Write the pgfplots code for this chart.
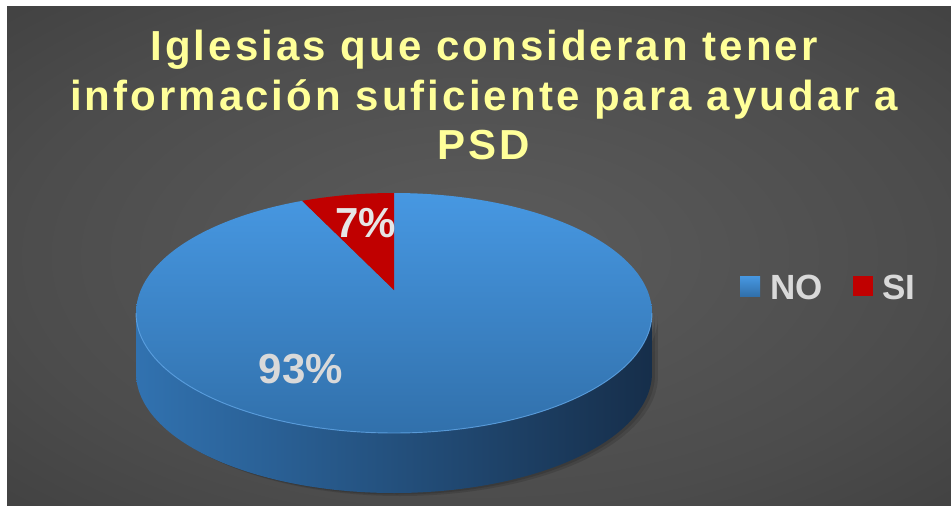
\documentclass[border=0pt]{standalone}
\usepackage{fontspec}
\setmainfont{Liberation Sans}
\newfontfamily\titlefont[LetterSpace=7.3]{Liberation Sans}
\usepackage{pgfplots}
\usepackage{pgfplotstable}
\pgfplotsset{compat=1.18}

\definecolor{titleyellow}{HTML}{FFFF99}
\definecolor{bgA}{HTML}{5C5C5C}
\definecolor{bgB}{HTML}{4C4C4C}
\definecolor{bgC}{HTML}{353535}
\definecolor{bgD}{HTML}{262626}
\definecolor{topA}{HTML}{4798E2}
\definecolor{topB}{HTML}{3170AB}
\definecolor{sideL}{HTML}{3172B0}
\definecolor{sideM}{HTML}{22507E}
\definecolor{sideR}{HTML}{162E4A}
\definecolor{siRed}{HTML}{C00000}
\definecolor{hiLine}{HTML}{62A8EA}
\definecolor{labA}{HTML}{E6E6E6}
\definecolor{labB}{HTML}{D9D9D9}

\pgfdeclareradialshading{bgshade}{\pgfpoint{0bp}{0bp}}{color(0bp)=(bgA); color(25bp)=(bgB); color(50bp)=(bgC); color(71bp)=(bgD)}

\pgfplotstableread{
cat val
NO 93
SI 7
}\pietable
\pgfplotstablegetelem{0}{val}\of\pietable \let\valNO\pgfplotsretval
\pgfplotstablegetelem{1}{val}\of\pietable \let\valSI\pgfplotsretval

% geometry of the perspective pie (pixel units)
\def\vx{394}\def\vy{290}\def\RA{253.2}\def\RB{115.6}\def\ee{0.1917}\def\dep{60}
\pgfmathsetmacro\aNOs{90}
\pgfmathsetmacro\aNOe{90-3.6*\valNO}
\pgfmathsetmacro\aSIs{\aNOe}
\pgfmathsetmacro\aSIe{\aSIs-3.6*\valSI}
\pgfmathsetmacro\tone{180+asin(\ee)}
\pgfmathsetmacro\ttwo{360-asin(\ee)}

\begin{document}
\begin{tikzpicture}
\begin{scope}[x=0.75pt,y=-0.75pt]
\fill[white] (0,0) rectangle (951,506);
\shade[shading=bgshade] (7,7) rectangle (951,505);
\tikzset{ttl/.style={anchor=base, inner sep=0pt, text=titleyellow, font=\titlefont\bfseries\fontsize{31.5}{37}\selectfont}}
\node[ttl] at (484,61) {Iglesias que consideran tener};
\node[ttl] at (484,110.5) {información suficiente para ayudar a};
\node[ttl] at (484,160) {PSD};
\end{scope}
\begin{axis}[
  at={(0pt,0pt)}, anchor=north west,
  scale only axis, width=713.25pt, height=379.5pt,
  xmin=0, xmax=951, ymin=0, ymax=506, y dir=reverse,
  hide axis, clip=false,
  declare function={
    px(\ang,\rr)=\vx+\rr*\RA*cos(\ang)/(1+\ee*sin(\ang));
    py(\ang,\rr)=\vy-\rr*\RB*sin(\ang)/(1+\ee*sin(\ang));
    sa(\uu,\sss,\eee)=\sss+(\eee-\sss)*min(\uu,1);
    sth(\uu)=ifthenelse(\uu<1.005,\tone+(\ttwo-\tone)*min(\uu,1),\ttwo-(\ttwo-\tone)*(\uu-1.01));
  },
  legend image code/.code={\fill[#1] (0pt,-6pt) rectangle (15pt,9pt);},
  legend style={at={(axis cs:740,288)}, anchor=west, draw=none, fill=none,
    inner sep=0pt, outer sep=0pt,
    font=\bfseries\fontsize{26.25}{30}\selectfont, text=labB,
    /tikz/every odd column/.append style={column sep=7.5pt},
    /tikz/every even column/.append style={column sep=22.5pt},
    nodes={inner sep=0pt}},
  legend columns=2,
]
% soft shadow of the side
\addplot[forget plot, fill=black, opacity=0.12, draw=none, domain=0:2.01, samples=202, variable=\t]
  ({px(sth(\t),1)+6}, {py(sth(\t),1)+(\t>1.005)*\dep+3});
\addplot[forget plot, fill=black, opacity=0.12, draw=none, domain=0:2.01, samples=202, variable=\t]
  ({px(sth(\t),1)+3}, {py(sth(\t),1)+(\t>1.005)*\dep+1.5});
% side band
\addplot[forget plot, left color=sideL, middle color=sideM, right color=sideR, draw=none,
  domain=0:2.01, samples=202, variable=\t]
  ({px(sth(\t),1)}, {py(sth(\t),1)+(\t>1.005)*\dep});
% NO slice (top face)
\addplot[top color=topA, bottom color=topB, draw=none, domain=0:1.05, samples=211, variable=\t]
  ({px(sa(\t,\aNOs,\aNOe),(\t<1.025))}, {py(sa(\t,\aNOs,\aNOe),(\t<1.025))});
\addlegendentry{NO}
% SI slice
\addplot[fill=siRed, draw=none, domain=0:1.05, samples=22, variable=\t]
  ({px(sa(\t,\aSIs,\aSIe),(\t<1.025))}, {py(sa(\t,\aSIs,\aSIe),(\t<1.025))});
\addlegendentry{SI}
% highlight on front rim
\addplot[forget plot, draw=hiLine, line width=0.7pt, opacity=0.8, domain=\tone:\ttwo, samples=120]
  ({px(x,1)}, {py(x,1)});
\node[anchor=base, inner sep=0pt, font=\bfseries\fontsize{31.5}{36}\selectfont, text=labA]
  at (axis cs:365.5,237) {\valSI\%};
\node[anchor=base, inner sep=0pt, font=\bfseries\fontsize{31.5}{36}\selectfont, text=labB]
  at (axis cs:301,383) {\valNO\%};
\end{axis}
\end{tikzpicture}
\end{document}
